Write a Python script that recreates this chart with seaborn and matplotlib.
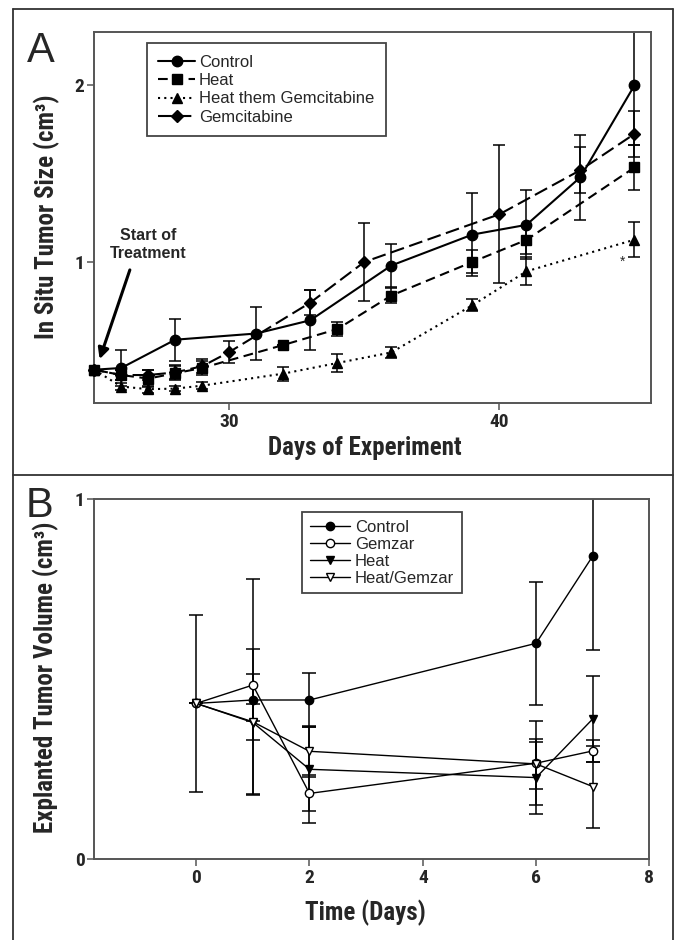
import matplotlib
matplotlib.use("Agg")
import matplotlib.pyplot as plt
import numpy as np
import pandas as pd
import seaborn as sns
from matplotlib.lines import Line2D

# Panel A: in situ tumour size (cm^3) against day of experiment
ctrl_days = [25, 26, 28, 31, 33, 36, 39, 41, 43, 45]
ctrl_size = [0.39, 0.40, 0.56, 0.595, 0.67, 0.98, 1.155, 1.21, 1.48, 2.00]
ctrl_err = [0, 0.10, 0.12, 0.15, 0.17, 0.12, 0.235, 0.195, 0.24, 0.34]

heat_days = [25, 26, 27, 28, 29, 32, 34, 36, 39, 41, 45]
heat_size = [0.39, 0.36, 0.34, 0.37, 0.40, 0.53, 0.62, 0.81, 1.00, 1.125, 1.535]
heat_err = [0, 0.03, 0.05, 0.04, 0.04, 0, 0.04, 0.04, 0.065, 0.08, 0.125]

hg_days = [25, 26, 27, 28, 29, 32, 34, 36, 39, 41, 45]
hg_size = [0.39, 0.295, 0.28, 0.283, 0.30, 0.368, 0.428, 0.488, 0.755, 0.947, 1.126]
hg_err = [0, 0.02, 0.02, 0.015, 0.02, 0.04, 0.05, 0.03, 0.035, 0.08, 0.10]

gem_days = [25, 26, 27, 28, 29, 30, 33, 35, 40, 43, 45]
gem_size = [0.39, 0.36, 0.36, 0.375, 0.41, 0.49, 0.77, 1.00, 1.27, 1.52, 1.725]
gem_err = [0, 0.03, 0.03, 0.04, 0.04, 0.06, 0.07, 0.22, 0.39, 0.13, 0.13]

# Panel B: explanted tumour volume (cm^3) against time (days)
b_days = [0, 1, 2, 6, 7]
b_ctrl = [0.433, 0.4425, 0.4425, 0.60, 0.8425]
b_ctrl_lo = [0.247, 0.26, 0.075, 0.17, 0.26]
b_ctrl_hi = [0.247, 0.335, 0.075, 0.17, 0.26]
b_gem = [0.433, 0.484, 0.183, 0.267, 0.301]
b_gem_lo = [0, 0.10, 0.05, 0.117, 0.03]
b_gem_hi = [0, 0.10, 0.05, 0.117, 0.03]
b_heat = [0.433, 0.38, 0.25, 0.227, 0.39]
b_heat_lo = [0, 0.20, 0.15, 0.10, 0.12]
b_heat_hi = [0, 0.135, 0.12, 0.10, 0.12]
b_hg = [0.433, 0.382, 0.30, 0.265, 0.202]
b_hg_lo = [0, 0.05, 0.07, 0.07, 0.114]
b_hg_hi = [0, 0.05, 0.067, 0.07, 0.114]

sns.set_style("ticks")
plt.rcParams["font.family"] = ["Liberation Sans", "DejaVu Sans"]
plt.rcParams["lines.scale_dashes"] = False

# narrow bold face for axis labels and tick numbers
NARROW = ["Roboto Condensed", "DejaVu Sans"]
COND = dict(family=NARROW, fontweight="bold")
SPINE = "#555555"

fig = plt.figure(figsize=(6.78, 9.4), dpi=100)
W, H = 678, 940
axA = fig.add_axes([94.2 / W, 1 - 403.3 / H, 556.5 / W, 371 / H])
axB = fig.add_axes([94.2 / W, 1 - 859.3 / H, 555.2 / W, 360 / H])

# outer frame and divider
for x0, y0, x1, y1 in [(12.7, 9.3, 12.7, 940), (673, 9.3, 673, 940),
                       (12.7, 9.3, 673, 9.3), (12.7, 475, 673, 475)]:
    fig.add_artist(Line2D([x0 / W, x1 / W], [1 - y0 / H, 1 - y1 / H],
                          color="#333333", lw=1.3))


def draw(ax, days, vals, lo, hi, label, marker, ls, ms, lw, mfc="black", capsize=4):
    df = pd.DataFrame({"day": days, "val": vals})
    ax.errorbar(days, vals, yerr=[lo, hi], fmt="none", ecolor="black",
                elinewidth=1.1, capsize=capsize, capthick=1.1, zorder=2)
    sns.lineplot(data=df, x="day", y="val", ax=ax, color="black", marker=marker,
                 linestyle=ls, markersize=ms, linewidth=lw, markerfacecolor=mfc,
                 markeredgecolor="black", markeredgewidth=1.0, label=label,
                 errorbar=None, clip_on=False, zorder=3)


# ---- Panel A
draw(axA, ctrl_days, ctrl_size, ctrl_err, ctrl_err, "Control", "o", "-", 7.5, 1.5)
draw(axA, heat_days, heat_size, heat_err, heat_err, "Heat", "s", (0, (7, 4)), 6.5, 1.5)
draw(axA, hg_days, hg_size, hg_err, hg_err, "Heat them Gemcitabine", "^", (0, (1.5, 3)), 7, 1.5)
draw(axA, gem_days, gem_size, gem_err, gem_err, "Gemcitabine", "D", (0, (10, 4)), 6, 1.5)

axA.set_xlim(25, 45.6)
axA.set_ylim(0.2, 2.3)
axA.set_xticks([30, 40])
axA.set_yticks([1, 2])
axA.set_xlabel("Days of Experiment", fontsize=18, **COND)
axA.set_ylabel("In Situ Tumor Size (cm³)", fontsize=18, **COND)
axA.xaxis.set_label_coords(0.487, -0.088)
axA.yaxis.set_label_coords(-0.062, 0.502)

axA.text(44.55, 1.0, "*", fontsize=10, ha="center", va="center")
axA.annotate("", xy=(25.2, 0.45), xytext=(26.32, 0.955),
             arrowprops=dict(arrowstyle="-|>", lw=2.2, color="black",
                             mutation_scale=16, shrinkA=0, shrinkB=0))
axA.text(26.98, 1.10, "Start of\nTreatment", ha="center", va="center",
         fontsize=11.5, fontweight="bold", linespacing=1.25)

legA = axA.legend(loc="upper left", bbox_to_anchor=(0.094, 0.971), borderaxespad=0,
                  fontsize=12, handlelength=2.2, handletextpad=0.25,
                  labelspacing=0.2, borderpad=0.7, fancybox=False, framealpha=1,
                  edgecolor="#444444")
legA.get_frame().set_linewidth(1.3)

# ---- Panel B
draw(axB, b_days, b_ctrl, b_ctrl_lo, b_ctrl_hi, "Control", "o", "-", 6, 1.0, capsize=5)
draw(axB, b_days, b_gem, b_gem_lo, b_gem_hi, "Gemzar", "o", "-", 6, 1.0, mfc="white", capsize=5)
draw(axB, b_days, b_heat, b_heat_lo, b_heat_hi, "Heat", "v", "-", 6, 1.0, capsize=5)
draw(axB, b_days, b_hg, b_hg_lo, b_hg_hi, "Heat/Gemzar", "v", "-", 6, 1.0, mfc="white", capsize=5)

axB.set_xlim(-1.8, 8)
axB.set_ylim(0, 1)
axB.set_xticks([0, 2, 4, 6, 8])
axB.set_yticks([0, 1])
axB.set_xlabel("Time (Days)", fontsize=18, **COND)
axB.set_ylabel("Explanted Tumor Volume (cm³)", fontsize=18, **COND)
axB.xaxis.set_label_coords(0.488, -0.112)
axB.yaxis.set_label_coords(-0.064, 0.505)

legB = axB.legend(loc="upper left", bbox_to_anchor=(0.375, 0.964), borderaxespad=0,
                  fontsize=12, handlelength=2.4, handletextpad=0.3,
                  labelspacing=0.12, borderpad=0.45, fancybox=False, framealpha=1,
                  edgecolor="#444444")
legB.get_frame().set_linewidth(1.3)

for ax in (axA, axB):
    for s in ax.spines.values():
        s.set_visible(True)
        s.set_color(SPINE)
        s.set_linewidth(1.4)
    ax.tick_params(length=5, width=1.1, color=SPINE, pad=2, labelsize=14)
    for lbl in ax.get_xticklabels() + ax.get_yticklabels():
        lbl.set_family(NARROW)
        lbl.set_fontweight("bold")

fig.text(26.7 / W, 1 - 62 / H, "A", fontsize=30, va="baseline")
fig.text(26 / W, 1 - 517 / H, "B", fontsize=30, va="baseline")

fig.savefig("out.png", dpi=100)
